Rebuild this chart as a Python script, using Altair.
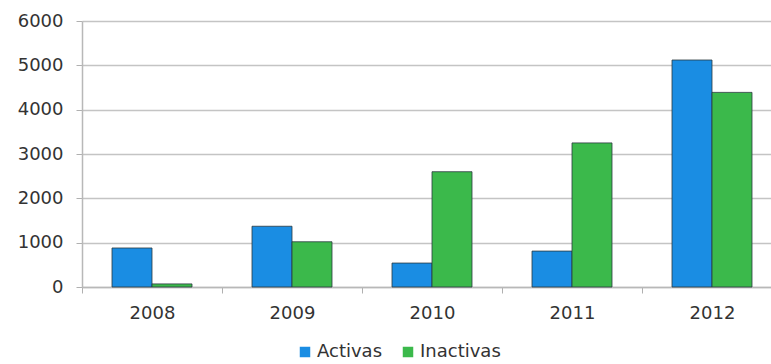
import altair as alt
import pandas as pd

years = ["2008", "2009", "2010", "2011", "2012"]
activas = [880, 1370, 540, 810, 5120]
inactivas = [70, 1020, 2600, 3250, 4390]
series = ["Activas", "Inactivas"]
colors = ["#1a8de3", "#3bb94b"]

rows = []
for i, y in enumerate(years):
    rows.append({"year": y, "serie": series[0], "value": activas[i]})
    rows.append({"year": y, "serie": series[1], "value": inactivas[i]})
df = pd.DataFrame(rows)

FONT = "DejaVu Sans"
FS = 18

chart = alt.Chart(df).mark_bar(
    stroke="#2b3a40", strokeWidth=1, strokeOpacity=0.8
).encode(
    x=alt.X("year:N", sort=years, title=None,
            scale=alt.Scale(range=[0, 700], paddingInner=0, paddingOuter=0),
            axis=alt.Axis(labelAngle=0, tickBand="extent", tickSize=6, tickColor="#b0b0b0",
                          domainColor="#b8b8b8", domainWidth=1.5, labelPadding=11,
                          labelFont=FONT, labelFontSize=FS, labelColor="#333333")),
    xOffset=alt.XOffset("serie:N", sort=series,
                        scale=alt.Scale(paddingInner=0, paddingOuter=0.75)),
    y=alt.Y("value:Q", title=None,
            scale=alt.Scale(domain=[0, 6000], nice=False),
            axis=alt.Axis(values=[0, 1000, 2000, 3000, 4000, 5000, 6000], format="d",
                          tickSize=6, tickColor="#b0b0b0", domainColor="#b8b8b8",
                          domainWidth=1.5, gridColor="#c4c4c4", gridWidth=1.5,
                          labelPadding=13, labelFont=FONT, labelFontSize=FS,
                          labelColor="#333333")),
    color=alt.Color("serie:N", sort=series, title=None,
                    scale=alt.Scale(domain=series, range=colors),
                    legend=alt.Legend(orient="none", legendX=214, legendY=322,
                                      direction="horizontal", symbolType="square",
                                      symbolSize=110, symbolStrokeWidth=0,
                                      labelFont=FONT, labelFontSize=FS, labelColor="#333333",
                                      labelOffset=3, columnPadding=16)),
).properties(
    width=689, height=266,
    autosize=alt.AutoSizeParams(type="none"),
    padding={"left": 82, "top": 21, "right": 0, "bottom": 77},
    background="white",
).configure_view(stroke=None)

chart.save("out.html", embed_options={"renderer": "svg", "actions": False})
